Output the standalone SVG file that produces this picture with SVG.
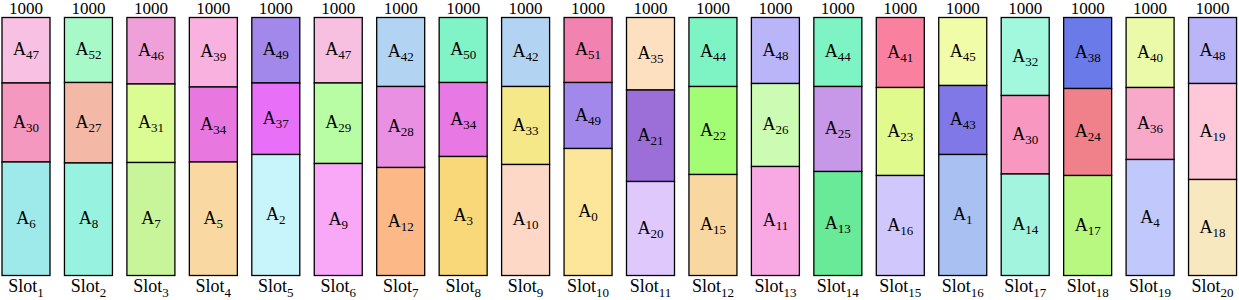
<svg xmlns="http://www.w3.org/2000/svg" width="1239" height="300" viewBox="0 0 1239 300">
<style>
.r{stroke:#000;stroke-width:1.3}
.c{font-family:'Liberation Serif',serif;font-size:17px;text-anchor:middle}
.a{font-family:'Liberation Serif',serif;font-size:18px;text-anchor:middle}
.s{font-family:'Liberation Serif',serif;font-size:13px}
</style>
<g id="slot1">
<rect class="r" x="2" y="17.5" width="48" height="65.5" fill="#f8c0e2"/>
<rect class="r" x="2" y="83" width="48" height="79" fill="#f598c0"/>
<rect class="r" x="2" y="162" width="48" height="113.5" fill="#9ee9ea"/>
<text class="c" x="26" y="13.5">1000</text>
<text class="a" x="26" y="55.3">A<tspan class="s" dy="4">47</tspan></text>
<text class="a" x="26" y="127.5">A<tspan class="s" dy="4">30</tspan></text>
<text class="a" x="26" y="223.8">A<tspan class="s" dy="4">6</tspan></text>
<text class="a" x="26" y="292">Slot<tspan class="s" dy="5">1</tspan></text>
</g>
<g id="slot2">
<rect class="r" x="64.45" y="17.5" width="48" height="65" fill="#a8f9c8"/>
<rect class="r" x="64.45" y="82.5" width="48" height="80.5" fill="#f4b8a6"/>
<rect class="r" x="64.45" y="163" width="48" height="112.5" fill="#98f2e0"/>
<text class="c" x="88.45" y="13.5">1000</text>
<text class="a" x="88.45" y="55">A<tspan class="s" dy="4">52</tspan></text>
<text class="a" x="88.45" y="127.8">A<tspan class="s" dy="4">27</tspan></text>
<text class="a" x="88.45" y="224.3">A<tspan class="s" dy="4">8</tspan></text>
<text class="a" x="88.45" y="292">Slot<tspan class="s" dy="5">2</tspan></text>
</g>
<g id="slot3">
<rect class="r" x="126.9" y="17.5" width="48" height="66.5" fill="#f0a0d8"/>
<rect class="r" x="126.9" y="84" width="48" height="78.5" fill="#dafc92"/>
<rect class="r" x="126.9" y="162.5" width="48" height="113" fill="#c8f49a"/>
<text class="c" x="150.9" y="13.5">1000</text>
<text class="a" x="150.9" y="55.8">A<tspan class="s" dy="4">46</tspan></text>
<text class="a" x="150.9" y="128.3">A<tspan class="s" dy="4">31</tspan></text>
<text class="a" x="150.9" y="224">A<tspan class="s" dy="4">7</tspan></text>
<text class="a" x="150.9" y="292">Slot<tspan class="s" dy="5">3</tspan></text>
</g>
<g id="slot4">
<rect class="r" x="189.35" y="17.5" width="48" height="69.5" fill="#f9b2e0"/>
<rect class="r" x="189.35" y="87" width="48" height="75" fill="#e878e0"/>
<rect class="r" x="189.35" y="162" width="48" height="113.5" fill="#f9d8a2"/>
<text class="c" x="213.35" y="13.5">1000</text>
<text class="a" x="213.35" y="57.3">A<tspan class="s" dy="4">39</tspan></text>
<text class="a" x="213.35" y="129.5">A<tspan class="s" dy="4">34</tspan></text>
<text class="a" x="213.35" y="223.8">A<tspan class="s" dy="4">5</tspan></text>
<text class="a" x="213.35" y="292">Slot<tspan class="s" dy="5">4</tspan></text>
</g>
<g id="slot5">
<rect class="r" x="251.8" y="17.5" width="48" height="65.5" fill="#a288ea"/>
<rect class="r" x="251.8" y="83" width="48" height="71.5" fill="#e870f8"/>
<rect class="r" x="251.8" y="154.5" width="48" height="121" fill="#c8f4fc"/>
<text class="c" x="275.8" y="13.5">1000</text>
<text class="a" x="275.8" y="55.3">A<tspan class="s" dy="4">49</tspan></text>
<text class="a" x="275.8" y="123.8">A<tspan class="s" dy="4">37</tspan></text>
<text class="a" x="275.8" y="220">A<tspan class="s" dy="4">2</tspan></text>
<text class="a" x="275.8" y="292">Slot<tspan class="s" dy="5">5</tspan></text>
</g>
<g id="slot6">
<rect class="r" x="314.25" y="17.5" width="48" height="65.5" fill="#f8c0e0"/>
<rect class="r" x="314.25" y="83" width="48" height="80.5" fill="#b8fca4"/>
<rect class="r" x="314.25" y="163.5" width="48" height="112" fill="#f9a8f8"/>
<text class="c" x="338.25" y="13.5">1000</text>
<text class="a" x="338.25" y="55.3">A<tspan class="s" dy="4">47</tspan></text>
<text class="a" x="338.25" y="128.3">A<tspan class="s" dy="4">29</tspan></text>
<text class="a" x="338.25" y="224.5">A<tspan class="s" dy="4">9</tspan></text>
<text class="a" x="338.25" y="292">Slot<tspan class="s" dy="5">6</tspan></text>
</g>
<g id="slot7">
<rect class="r" x="376.7" y="17.5" width="48" height="69" fill="#b2d4f2"/>
<rect class="r" x="376.7" y="86.5" width="48" height="81" fill="#ea90e2"/>
<rect class="r" x="376.7" y="167.5" width="48" height="108" fill="#fcb886"/>
<text class="c" x="400.7" y="13.5">1000</text>
<text class="a" x="400.7" y="57">A<tspan class="s" dy="4">42</tspan></text>
<text class="a" x="400.7" y="132">A<tspan class="s" dy="4">28</tspan></text>
<text class="a" x="400.7" y="226.5">A<tspan class="s" dy="4">12</tspan></text>
<text class="a" x="400.7" y="292">Slot<tspan class="s" dy="5">7</tspan></text>
</g>
<g id="slot8">
<rect class="r" x="439.15" y="17.5" width="48" height="65" fill="#80f4c6"/>
<rect class="r" x="439.15" y="82.5" width="48" height="74" fill="#e878e4"/>
<rect class="r" x="439.15" y="156.5" width="48" height="119" fill="#f8d878"/>
<text class="c" x="463.15" y="13.5">1000</text>
<text class="a" x="463.15" y="55">A<tspan class="s" dy="4">50</tspan></text>
<text class="a" x="463.15" y="124.5">A<tspan class="s" dy="4">34</tspan></text>
<text class="a" x="463.15" y="221">A<tspan class="s" dy="4">3</tspan></text>
<text class="a" x="463.15" y="292">Slot<tspan class="s" dy="5">8</tspan></text>
</g>
<g id="slot9">
<rect class="r" x="501.6" y="17.5" width="48" height="69" fill="#b2d4f2"/>
<rect class="r" x="501.6" y="86.5" width="48" height="78" fill="#f4e888"/>
<rect class="r" x="501.6" y="164.5" width="48" height="111" fill="#fed8c6"/>
<text class="c" x="525.6" y="13.5">1000</text>
<text class="a" x="525.6" y="57">A<tspan class="s" dy="4">42</tspan></text>
<text class="a" x="525.6" y="130.5">A<tspan class="s" dy="4">33</tspan></text>
<text class="a" x="525.6" y="225">A<tspan class="s" dy="4">10</tspan></text>
<text class="a" x="525.6" y="292">Slot<tspan class="s" dy="5">9</tspan></text>
</g>
<g id="slot10">
<rect class="r" x="564.05" y="17.5" width="48" height="65" fill="#f282b0"/>
<rect class="r" x="564.05" y="82.5" width="48" height="66" fill="#a288ea"/>
<rect class="r" x="564.05" y="148.5" width="48" height="127" fill="#fde59a"/>
<text class="c" x="588.05" y="13.5">1000</text>
<text class="a" x="588.05" y="55">A<tspan class="s" dy="4">51</tspan></text>
<text class="a" x="588.05" y="120.5">A<tspan class="s" dy="4">49</tspan></text>
<text class="a" x="588.05" y="217">A<tspan class="s" dy="4">0</tspan></text>
<text class="a" x="588.05" y="292">Slot<tspan class="s" dy="5">10</tspan></text>
</g>
<g id="slot11">
<rect class="r" x="626.5" y="17.5" width="48" height="72.5" fill="#fde0c0"/>
<rect class="r" x="626.5" y="90" width="48" height="91.5" fill="#9c6ed8"/>
<rect class="r" x="626.5" y="181.5" width="48" height="94" fill="#dec8fc"/>
<text class="c" x="650.5" y="13.5">1000</text>
<text class="a" x="650.5" y="58.8">A<tspan class="s" dy="4">35</tspan></text>
<text class="a" x="650.5" y="140.8">A<tspan class="s" dy="4">21</tspan></text>
<text class="a" x="650.5" y="233.5">A<tspan class="s" dy="4">20</tspan></text>
<text class="a" x="650.5" y="292">Slot<tspan class="s" dy="5">11</tspan></text>
</g>
<g id="slot12">
<rect class="r" x="688.95" y="17.5" width="48" height="69" fill="#7ef4c4"/>
<rect class="r" x="688.95" y="86.5" width="48" height="88" fill="#a2fc74"/>
<rect class="r" x="688.95" y="174.5" width="48" height="101" fill="#f8d8a0"/>
<text class="c" x="712.95" y="13.5">1000</text>
<text class="a" x="712.95" y="57">A<tspan class="s" dy="4">44</tspan></text>
<text class="a" x="712.95" y="135.5">A<tspan class="s" dy="4">22</tspan></text>
<text class="a" x="712.95" y="230">A<tspan class="s" dy="4">15</tspan></text>
<text class="a" x="712.95" y="292">Slot<tspan class="s" dy="5">12</tspan></text>
</g>
<g id="slot13">
<rect class="r" x="751.4" y="17.5" width="48" height="66" fill="#bab4f8"/>
<rect class="r" x="751.4" y="83.5" width="48" height="83" fill="#ccfcb4"/>
<rect class="r" x="751.4" y="166.5" width="48" height="109" fill="#f8a8e2"/>
<text class="c" x="775.4" y="13.5">1000</text>
<text class="a" x="775.4" y="55.5">A<tspan class="s" dy="4">48</tspan></text>
<text class="a" x="775.4" y="130">A<tspan class="s" dy="4">26</tspan></text>
<text class="a" x="775.4" y="226">A<tspan class="s" dy="4">11</tspan></text>
<text class="a" x="775.4" y="292">Slot<tspan class="s" dy="5">13</tspan></text>
</g>
<g id="slot14">
<rect class="r" x="813.85" y="17.5" width="48" height="69" fill="#7ef4c4"/>
<rect class="r" x="813.85" y="86.5" width="48" height="85" fill="#c898e8"/>
<rect class="r" x="813.85" y="171.5" width="48" height="104" fill="#68ea98"/>
<text class="c" x="837.85" y="13.5">1000</text>
<text class="a" x="837.85" y="57">A<tspan class="s" dy="4">44</tspan></text>
<text class="a" x="837.85" y="134">A<tspan class="s" dy="4">25</tspan></text>
<text class="a" x="837.85" y="228.5">A<tspan class="s" dy="4">13</tspan></text>
<text class="a" x="837.85" y="292">Slot<tspan class="s" dy="5">14</tspan></text>
</g>
<g id="slot15">
<rect class="r" x="876.3" y="17.5" width="48" height="70" fill="#fa80a0"/>
<rect class="r" x="876.3" y="87.5" width="48" height="88" fill="#e0fa8e"/>
<rect class="r" x="876.3" y="175.5" width="48" height="100" fill="#d0c8fc"/>
<text class="c" x="900.3" y="13.5">1000</text>
<text class="a" x="900.3" y="57.5">A<tspan class="s" dy="4">41</tspan></text>
<text class="a" x="900.3" y="136.5">A<tspan class="s" dy="4">23</tspan></text>
<text class="a" x="900.3" y="230.5">A<tspan class="s" dy="4">16</tspan></text>
<text class="a" x="900.3" y="292">Slot<tspan class="s" dy="5">15</tspan></text>
</g>
<g id="slot16">
<rect class="r" x="938.75" y="17.5" width="48" height="68" fill="#f0fca8"/>
<rect class="r" x="938.75" y="85.5" width="48" height="69" fill="#8078e6"/>
<rect class="r" x="938.75" y="154.5" width="48" height="121" fill="#a8c0f2"/>
<text class="c" x="962.75" y="13.5">1000</text>
<text class="a" x="962.75" y="56.5">A<tspan class="s" dy="4">45</tspan></text>
<text class="a" x="962.75" y="125">A<tspan class="s" dy="4">43</tspan></text>
<text class="a" x="962.75" y="220">A<tspan class="s" dy="4">1</tspan></text>
<text class="a" x="962.75" y="292">Slot<tspan class="s" dy="5">16</tspan></text>
</g>
<g id="slot17">
<rect class="r" x="1001.2" y="17.5" width="48" height="78" fill="#a2f8dc"/>
<rect class="r" x="1001.2" y="95.5" width="48" height="78.5" fill="#f898c0"/>
<rect class="r" x="1001.2" y="174" width="48" height="101.5" fill="#a2f4de"/>
<text class="c" x="1025.2" y="13.5">1000</text>
<text class="a" x="1025.2" y="61.5">A<tspan class="s" dy="4">32</tspan></text>
<text class="a" x="1025.2" y="139.8">A<tspan class="s" dy="4">30</tspan></text>
<text class="a" x="1025.2" y="229.8">A<tspan class="s" dy="4">14</tspan></text>
<text class="a" x="1025.2" y="292">Slot<tspan class="s" dy="5">17</tspan></text>
</g>
<g id="slot18">
<rect class="r" x="1063.65" y="17.5" width="48" height="71" fill="#6a7ae8"/>
<rect class="r" x="1063.65" y="88.5" width="48" height="87" fill="#f0808a"/>
<rect class="r" x="1063.65" y="175.5" width="48" height="100" fill="#b8f880"/>
<text class="c" x="1087.65" y="13.5">1000</text>
<text class="a" x="1087.65" y="58">A<tspan class="s" dy="4">38</tspan></text>
<text class="a" x="1087.65" y="137">A<tspan class="s" dy="4">24</tspan></text>
<text class="a" x="1087.65" y="230.5">A<tspan class="s" dy="4">17</tspan></text>
<text class="a" x="1087.65" y="292">Slot<tspan class="s" dy="5">18</tspan></text>
</g>
<g id="slot19">
<rect class="r" x="1126.1" y="17.5" width="48" height="70" fill="#eafaa8"/>
<rect class="r" x="1126.1" y="87.5" width="48" height="72" fill="#f8a8c8"/>
<rect class="r" x="1126.1" y="159.5" width="48" height="116" fill="#c0c8fc"/>
<text class="c" x="1150.1" y="13.5">1000</text>
<text class="a" x="1150.1" y="57.5">A<tspan class="s" dy="4">40</tspan></text>
<text class="a" x="1150.1" y="128.5">A<tspan class="s" dy="4">36</tspan></text>
<text class="a" x="1150.1" y="222.5">A<tspan class="s" dy="4">4</tspan></text>
<text class="a" x="1150.1" y="292">Slot<tspan class="s" dy="5">19</tspan></text>
</g>
<g id="slot20">
<rect class="r" x="1188.55" y="17.5" width="48" height="66" fill="#bab4f8"/>
<rect class="r" x="1188.55" y="83.5" width="48" height="96" fill="#fec8d8"/>
<rect class="r" x="1188.55" y="179.5" width="48" height="96" fill="#f8e8c0"/>
<text class="c" x="1212.55" y="13.5">1000</text>
<text class="a" x="1212.55" y="55.5">A<tspan class="s" dy="4">48</tspan></text>
<text class="a" x="1212.55" y="136.5">A<tspan class="s" dy="4">19</tspan></text>
<text class="a" x="1212.55" y="232.5">A<tspan class="s" dy="4">18</tspan></text>
<text class="a" x="1212.55" y="292">Slot<tspan class="s" dy="5">20</tspan></text>
</g>
</svg>
